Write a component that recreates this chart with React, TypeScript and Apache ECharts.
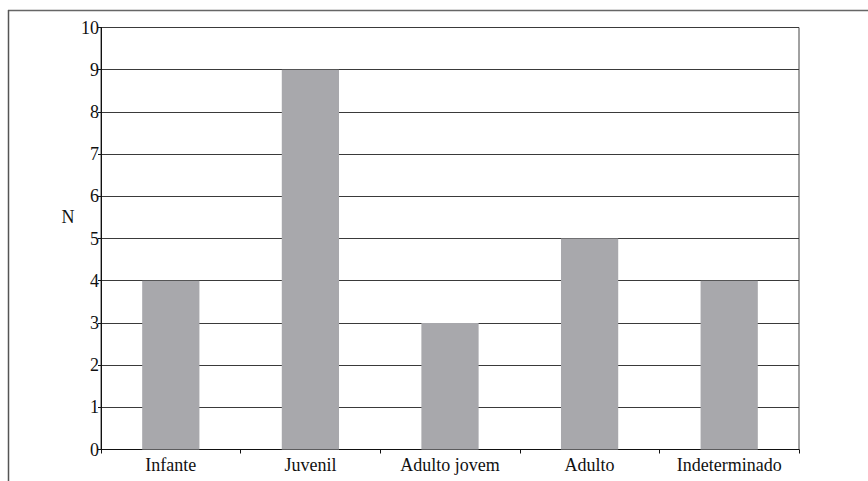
import React, { useEffect, useRef } from "react";
import * as echarts from "echarts";

const categories = ["Infante", "Juvenil", "Adulto jovem", "Adulto", "Indeterminado"];
const values = [4, 9, 3, 5, 4];
const yAxisName = "N";

export default function App() {
  const ref = useRef<HTMLDivElement>(null);
  useEffect(() => {
    if (!ref.current) return;
    const chart = echarts.init(ref.current, null, { renderer: "svg" });
    const font = "Liberation Serif";
    chart.setOption({
      animation: false,
      backgroundColor: "#ffffff",
      textStyle: { fontFamily: font },
      grid: {
        left: 101,
        right: 69,
        top: 27.5,
        bottom: 31.5,
        show: true,
        borderColor: "#444",
        borderWidth: 1,
        backgroundColor: "transparent",
      },
      xAxis: {
        type: "category",
        data: categories,
        axisLine: { lineStyle: { color: "#111", width: 1 } },
        axisTick: { show: true, length: 4, lineStyle: { color: "#111" } },
        axisLabel: { color: "#111", fontFamily: font, fontSize: 18, margin: 6 },
      },
      yAxis: {
        type: "value",
        min: 0,
        max: 10,
        interval: 1,
        axisLine: { show: true, lineStyle: { color: "#111", width: 1 } },
        axisTick: { show: true, length: 3, lineStyle: { color: "#111" } },
        axisLabel: { color: "#111", fontFamily: font, fontSize: 18, margin: 2 },
        splitLine: { show: true, lineStyle: { color: "#3a3a3a", width: 1 } },
      },
      graphic: [
        {
          type: "line",
          shape: { x1: 8, y1: 10.5, x2: 868, y2: 10.5 },
          style: { stroke: "#666", lineWidth: 1.5 },
        },
        {
          type: "line",
          shape: { x1: 8.5, y1: 10, x2: 8.5, y2: 481 },
          style: { stroke: "#555", lineWidth: 1.5 },
        },
        {
          type: "text",
          x: 68,
          y: 217,
          style: {
            text: yAxisName,
            fontFamily: font,
            fontSize: 18,
            fill: "#111",
            align: "center",
            verticalAlign: "middle",
          },
        },
      ],
      series: [
        {
          type: "bar",
          data: values,
          barWidth: "41%",
          itemStyle: { color: "#a8a8ac" },
        },
      ],
    });
    return () => chart.dispose();
  }, []);
  return (
    <div
      ref={ref}
      style={{ position: "absolute", left: 0, top: 0, width: 868, height: 481 }}
    />
  );
}
